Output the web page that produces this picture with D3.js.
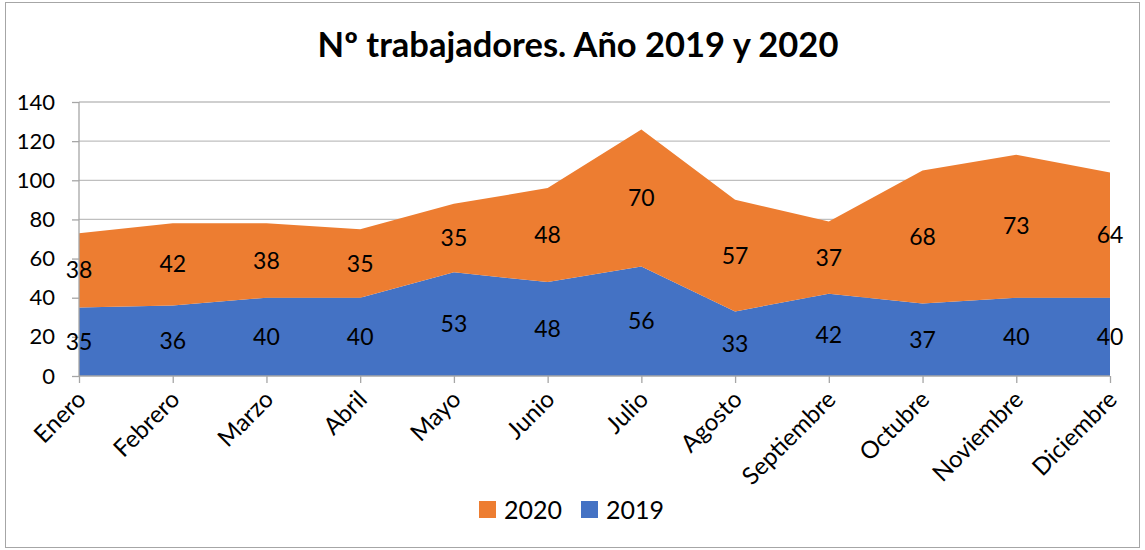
<!DOCTYPE html>
<html>
<head>
<meta charset="utf-8">
<script src="https://cdn.jsdelivr.net/npm/d3@7"></script>
<style>
  body { margin: 0; background: #fff; }
  text { font-family: Lato, "Open Sans", sans-serif; fill: #000; }
</style>
</head>
<body>
<svg id="chart"></svg>
<script>
'use strict';

const WIDTH = 1145;
const HEIGHT = 550;

const months = ['Enero', 'Febrero', 'Marzo', 'Abril', 'Mayo', 'Junio', 'Julio',
    'Agosto', 'Septiembre', 'Octubre', 'Noviembre', 'Diciembre'];
const y2019 = [35, 36, 40, 40, 53, 48, 56, 33, 42, 37, 40, 40];
const y2020 = [38, 42, 38, 35, 35, 48, 70, 57, 37, 68, 73, 64];
const yTicks = [0, 20, 40, 60, 80, 100, 120, 140];

const COLOR = { y2019: '#4472C4', y2020: '#ED7D31', GRID: '#BFBFBF', AXIS: '#A6A6A6' };

const margin = { left: 79, right: 35, top: 102, bottom: 174 };

const svg = d3.select('#chart').attr('width', WIDTH).attr('height', HEIGHT);

// outer frame
svg.append('rect')
    .attr('x', 5.5).attr('y', 2.5)
    .attr('width', WIDTH - 11).attr('height', HEIGHT - 5)
    .attr('fill', '#fff').attr('stroke', '#A6A6A6');

const x = d3.scalePoint().domain(months).range([margin.left, WIDTH - margin.right]);
const y = d3.scaleLinear().domain([0, 140]).range([HEIGHT - margin.bottom, margin.top]);

// gridlines
svg.append('g').selectAll('line')
    .data(yTicks.slice(1))
    .enter().append('line')
    .attr('x1', margin.left).attr('x2', WIDTH - margin.right)
    .attr('y1', d => y(d)).attr('y2', d => y(d))
    .attr('stroke', COLOR.GRID).attr('stroke-width', 1.3);

// stacked data
const rows = months.map((m, i) => ({ m: m, a: y2019[i], b: y2020[i] }));
const stack = d3.stack().keys(['a', 'b'])(rows);
const fills = [COLOR.y2019, COLOR.y2020];

const area = d3.area()
    .x(d => x(d.data.m))
    .y0(d => y(d[0]))
    .y1(d => y(d[1]));

svg.append('g').selectAll('path')
    .data(stack)
    .enter().append('path')
    .attr('d', area)
    .attr('fill', (d, i) => fills[i]);

// axes
const yAxis = svg.append('g')
    .attr('transform', 'translate(' + margin.left + ',0)')
    .call(d3.axisLeft(y).tickValues(yTicks).tickSize(7).tickPadding(17));
yAxis.selectAll('text').style('font-size', '22px');

const xAxis = svg.append('g')
    .attr('transform', 'translate(0,' + y(0) + ')')
    .call(d3.axisBottom(x).tickSize(7));
xAxis.selectAll('text')
    .style('font-size', '24px')
    .attr('text-anchor', 'end')
    .attr('x', 0).attr('y', 0)
    .attr('dy', '0.35em')
    .attr('transform', 'translate(2,19) rotate(-45)');

[yAxis, xAxis].forEach(function(g) {
    g.selectAll('path, line').attr('stroke', COLOR.AXIS).attr('stroke-width', 1.3);
});
yAxis.select('.domain').remove();
yAxis.append('line')
    .attr('x1', 0).attr('x2', 0)
    .attr('y1', y(0)).attr('y2', y(140))
    .attr('stroke', COLOR.AXIS).attr('stroke-width', 1.3);
xAxis.select('.domain').attr('d', 'M' + x(months[0]) + ',0H' + x(months[11]));

// data labels, centred in each band
stack.forEach(function(s) {
    svg.append('g').selectAll('text')
        .data(s)
        .enter().append('text')
        .attr('x', d => x(d.data.m))
        .attr('y', d => y((d[0] + d[1]) / 2))
        .attr('dy', '0.35em')
        .attr('text-anchor', 'middle')
        .style('font-size', '23px')
        .text(d => d[1] - d[0]);
});

// title
svg.append('text')
    .attr('x', 578).attr('y', 57)
    .attr('text-anchor', 'middle')
    .style('font-size', '34.5px').style('font-weight', 'bold')
    .text('Nº trabajadores. Año 2019 y 2020');

// legend
const legend = [{ name: '2020', c: COLOR.y2020, x: 479 }, { name: '2019', c: COLOR.y2019, x: 581 }];
const lg = svg.append('g').selectAll('g').data(legend).enter().append('g');
lg.append('rect')
    .attr('x', d => d.x).attr('y', 501)
    .attr('width', 17).attr('height', 17)
    .attr('fill', d => d.c);
lg.append('text')
    .attr('x', d => d.x + 25).attr('y', 510)
    .attr('dy', '0.35em')
    .style('font-size', '25px')
    .text(d => d.name);
</script>
</body>
</html>
